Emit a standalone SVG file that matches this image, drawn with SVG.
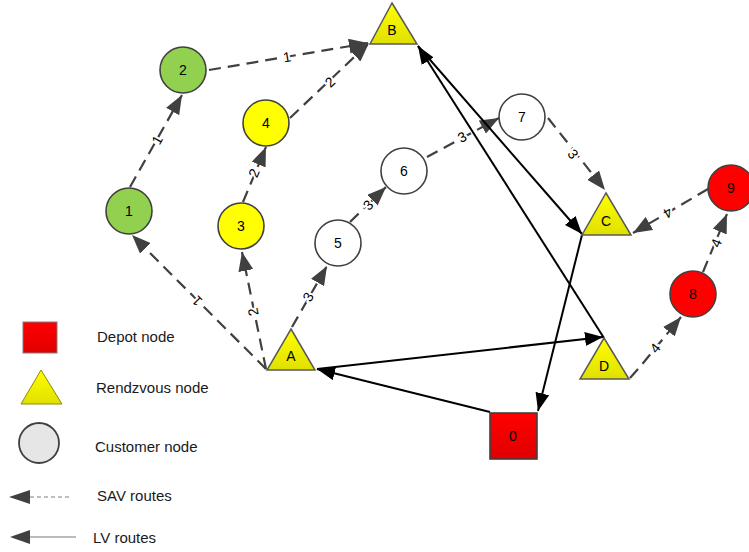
<svg xmlns="http://www.w3.org/2000/svg" width="749" height="552" viewBox="0 0 749 552">
<defs>
<linearGradient id="gy" x1="0" y1="0" x2="0" y2="1"><stop offset="0" stop-color="#ffff00"/><stop offset="1" stop-color="#e0e000"/></linearGradient>
<linearGradient id="gr" x1="0" y1="0" x2="0" y2="1"><stop offset="0" stop-color="#ff0000"/><stop offset="1" stop-color="#e00000"/></linearGradient>
<marker id="sav" viewBox="0 0 19 15" refX="19" refY="7.5" markerWidth="19" markerHeight="15" markerUnits="userSpaceOnUse" orient="auto"><path d="M0,0 L19,7.5 L0,15 z" fill="#404040"/></marker>
<marker id="lv" viewBox="0 0 18 14" refX="18" refY="7" markerWidth="18" markerHeight="14" markerUnits="userSpaceOnUse" orient="auto"><path d="M0,0 L18,7 L0,14 z" fill="#000"/></marker>
</defs>
<style>
.sav{fill:none;stroke:#404040;stroke-width:2.2;stroke-dasharray:12,7;marker-end:url(#sav)}
.lv{fill:none;stroke:#000;stroke-width:2;marker-end:url(#lv)}
.nd{stroke:#404040;stroke-width:1.6}
.tri{fill:url(#gy);stroke:#595959;stroke-width:1.5}
.t{font-family:"Liberation Sans",Arial,sans-serif;font-size:14px;fill:#000;text-anchor:middle;dominant-baseline:central}
.lbl{font-family:"Liberation Sans",Arial,sans-serif;font-size:14px;fill:#000;text-anchor:middle;dominant-baseline:central;stroke:#fff;stroke-width:4;paint-order:stroke}
.lg{font-family:"Liberation Sans",Arial,sans-serif;font-size:15px;fill:#1a1a1a}
</style>
<rect width="749" height="552" fill="#fff"/>

<g id="connectors">
<g id="sav-routes">
<line class="sav" x1="266" y1="369" x2="132" y2="235"/>
<line class="sav" x1="130" y1="187" x2="182" y2="95"/>
<line class="sav" x1="209" y1="70" x2="368" y2="43"/>
<line class="sav" x1="243" y1="202" x2="266" y2="147"/>
<line class="sav" x1="290" y1="118" x2="369" y2="43"/>
<line class="sav" x1="266" y1="369" x2="242" y2="252"/>
<line class="sav" x1="292" y1="327" x2="327" y2="266"/>
<line class="sav" x1="350" y1="222" x2="386" y2="187"/>
<line class="sav" x1="427" y1="157" x2="499" y2="118"/>
<line class="sav" x1="548" y1="118" x2="605" y2="190"/>
<line class="sav" x1="708" y1="189" x2="633" y2="233"/>
<line class="sav" x1="703" y1="272" x2="727" y2="214"/>
<polyline class="sav" points="630,378 639,368 681,317"/>
</g>
<g id="sav-labels">
<text class="lbl" transform="translate(197,301) rotate(-135)">1</text>
<text class="lbl" transform="translate(157,140) rotate(-60.5)">1</text>
<text class="lbl" transform="translate(287,57) rotate(-9.6)">1</text>
<text class="lbl" transform="translate(254,173) rotate(-67.3)">2</text>
<text class="lbl" transform="translate(330,82) rotate(-43.5)">2</text>
<text class="lbl" transform="translate(253,312) rotate(-101.6)">2</text>
<text class="lbl" transform="translate(308,297) rotate(-60.2)">3</text>
<text class="lbl" transform="translate(368,205) rotate(-44.2)">3</text>
<text class="lbl" transform="translate(462,137) rotate(-28.4)">3</text>
<text class="lbl" transform="translate(573,154) rotate(51.6)">3</text>
<text class="lbl" transform="translate(668,213) rotate(149.6)">4</text>
<text class="lbl" transform="translate(716,243) rotate(-67.5)">4</text>
<text class="lbl" transform="translate(655,348) rotate(-50.5)">4</text>
</g>
<g id="lv-routes">
<line class="lv" x1="490" y1="412" x2="317" y2="369"/>
<line class="lv" x1="317" y1="369" x2="603" y2="337"/>
<line class="lv" x1="604" y1="338" x2="418" y2="46"/>
<line class="lv" x1="418" y1="46" x2="582" y2="234"/>
<line class="lv" x1="582" y1="235" x2="538" y2="411"/>
</g>
</g>

<g id="node-0"><rect x="490" y="413" width="47" height="46" fill="url(#gr)" class="nd"/><text class="t" x="513" y="436">0</text></g>
<g id="node-1"><circle cx="129" cy="211" r="23" fill="#92d050" class="nd"/><text class="t" x="129" y="211">1</text></g>
<g id="node-2"><circle cx="183" cy="70" r="23" fill="#92d050" class="nd"/><text class="t" x="183" y="70">2</text></g>
<g id="node-3"><circle cx="241" cy="226" r="23" fill="#ffff00" class="nd"/><text class="t" x="241" y="226">3</text></g>
<g id="node-4"><circle cx="266" cy="123" r="23" fill="#ffff00" class="nd"/><text class="t" x="266" y="123">4</text></g>
<g id="node-5"><circle cx="338" cy="243" r="23" fill="#fff" class="nd"/><text class="t" x="338" y="243">5</text></g>
<g id="node-6"><circle cx="404" cy="171" r="23" fill="#fff" class="nd"/><text class="t" x="404" y="171">6</text></g>
<g id="node-7"><circle cx="522" cy="117" r="23" fill="#fff" class="nd"/><text class="t" x="522" y="117">7</text></g>
<g id="node-8"><circle cx="693" cy="294" r="23" fill="#ff0000" class="nd"/><text class="t" x="693" y="294">8</text></g>
<g id="node-9"><circle cx="731" cy="188" r="23" fill="#ff0000" class="nd"/><text class="t" x="731" y="188">9</text></g>
<g id="node-A"><polygon class="tri" points="291,329 315,370 267,370"/><text class="t" x="291" y="356">A</text></g>
<g id="node-B"><polygon class="tri" points="392,3 417,44 370,44"/><text class="t" x="392" y="30">B</text></g>
<g id="node-C"><polygon class="tri" points="606,193 631,235 582,235"/><text class="t" x="606" y="221">C</text></g>
<g id="node-D"><polygon class="tri" points="604,338 629,379 580,379"/><text class="t" x="604" y="366">D</text></g>

<g id="legend">
<rect x="23" y="322" width="34" height="31" fill="url(#gr)" stroke="#7f7f7f" stroke-width="1"/>
<text class="lg" x="97" y="342">Depot node</text>
<polygon points="41,370 62,404 21,404" fill="url(#gy)" stroke="#8c8c00" stroke-width="1"/>
<text class="lg" x="96" y="393">Rendzvous node</text>
<circle cx="39" cy="443" r="20" fill="#e6e6e6" stroke="#404040" stroke-width="1.8"/>
<text class="lg" x="95" y="452">Customer node</text>
<line x1="30" y1="497" x2="69" y2="497" stroke="#7f7f7f" stroke-width="1" stroke-dasharray="4,3"/>
<path d="M9,497 L30,490 L30,504 z" fill="#404040"/>
<text class="lg" x="97" y="501">SAV routes</text>
<line x1="29" y1="537" x2="76" y2="537" stroke="#a6a6a6" stroke-width="1.5"/>
<path d="M10,537 L30,530 L30,544 z" fill="#404040"/>
<text class="lg" x="93" y="543">LV routes</text>
</g>
</svg>
